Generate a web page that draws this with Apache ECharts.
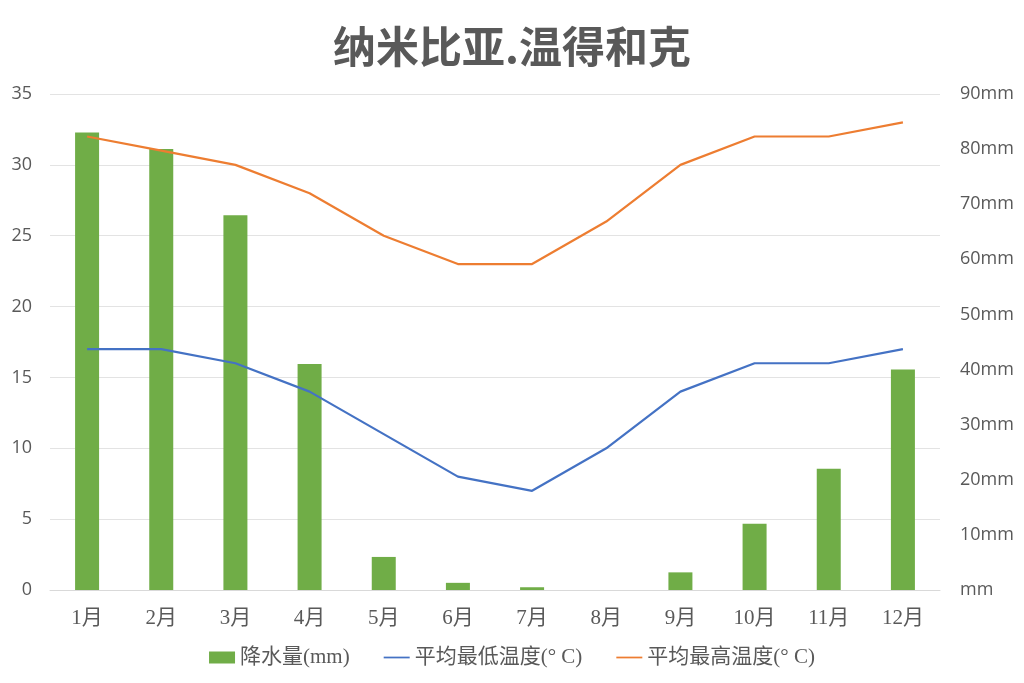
<!DOCTYPE html>
<html><head><meta charset="utf-8">
<script src="https://cdn.jsdelivr.net/npm/echarts@6/dist/echarts.min.js"></script>
<style>html,body{margin:0;padding:0;background:#fff}#c{width:1024px;height:683px}</style>
</head><body><div id="c"></div>
<script>
const categories = ['1月','2月','3月','4月','5月','6月','7月','8月','9月','10月','11月','12月'];
const rainfall = [83, 80, 68, 41, 6, 1.3, 0.5, 0, 3.2, 12, 22, 40];
const lowTemp = [17, 17, 16, 14, 11, 8, 7, 10, 14, 16, 16, 17];
const highTemp = [32, 31, 30, 28, 25, 23, 23, 26, 30, 32, 32, 33];
const seriesNames = ['降水量(mm)', '平均最低温度(° C)', '平均最高温度(° C)'];
const chart = echarts.init(document.getElementById('c'));
const serif = "'Liberation Serif', 'Noto Sans CJK SC', serif";
const sans = "'Open Sans', 'Noto Sans CJK SC', sans-serif";
chart.setOption({
  backgroundColor: '#fff',
  animation: false,
  title: { text: '纳米比亚.温得和克', left: 'center', top: 20,
    textStyle: { fontFamily: "'Noto Sans CJK SC', sans-serif", fontSize: 43, fontWeight: 'bold', color: '#595959' } },
  grid: { left: 50, right: 84, top: 94, bottom: 93, containLabel: false },
  legend: { bottom: 10, itemGap: 34, itemWidth: 26, itemHeight: 12,
    textStyle: { fontFamily: serif, fontSize: 21, color: '#595959' },
    data: [{name: seriesNames[0], icon: 'rect'}, {name: seriesNames[1], icon: 'path://M0,5 L30,5 L30,7 L0,7 Z'}, {name: seriesNames[2], icon: 'path://M0,5 L30,5 L30,7 L0,7 Z'}] },
  xAxis: { type: 'category', data: categories,
    axisLine: { lineStyle: { color: '#d9d9d9' } }, axisTick: { show: false },
    axisLabel: { fontFamily: serif, fontSize: 21, color: '#595959', margin: 18 } },
  yAxis: [
    { type: 'value', min: 0, max: 35, interval: 5,
      axisLine: { show: false }, axisTick: { show: false },
      splitLine: { lineStyle: { color: '#e3e3e3' } },
      axisLabel: { fontFamily: sans, fontSize: 18, color: '#595959', margin: 18 } },
    { type: 'value', min: 0, max: 90, interval: 10,
      axisLine: { show: false }, axisTick: { show: false }, splitLine: { show: false },
      axisLabel: { fontFamily: sans, fontSize: 18, color: '#595959', margin: 20,
        formatter: v => (v === 0 ? '' : v) + 'mm' } }
  ],
  series: [
    { name: seriesNames[0], type: 'bar', yAxisIndex: 1, data: rainfall, barWidth: 24,
      itemStyle: { color: '#70ad47' } },
    { name: seriesNames[1], type: 'line', yAxisIndex: 0, data: lowTemp, symbol: 'none',
      lineStyle: { color: '#4472c4', width: 2.2 }, itemStyle: { color: '#4472c4' } },
    { name: seriesNames[2], type: 'line', yAxisIndex: 0, data: highTemp, symbol: 'none',
      lineStyle: { color: '#ed7d31', width: 2.2 }, itemStyle: { color: '#ed7d31' } }
  ]
});
</script></body></html>
